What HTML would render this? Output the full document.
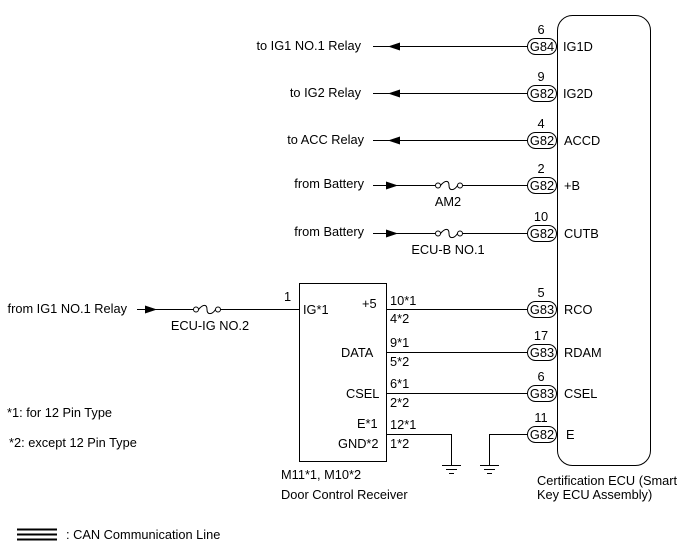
<!DOCTYPE html>
<html><head><meta charset="utf-8"><style>
html,body{margin:0;padding:0;background:#fff;}
svg{display:block;}
text{font-family:"Liberation Sans",Arial,sans-serif;font-size:12.8px;fill:#000;}
</style></head><body>
<svg width="688" height="560" viewBox="0 0 688 560" xmlns="http://www.w3.org/2000/svg">
<g stroke="#000" stroke-width="1" fill="none">
<rect x="557.5" y="15.5" width="93" height="450" rx="15" ry="15"/>
<rect x="299.5" y="283.5" width="87" height="178"/>
<line x1="373" y1="46.5" x2="527" y2="46.5"/>
<line x1="373" y1="93.5" x2="527" y2="93.5"/>
<line x1="373" y1="140.5" x2="527" y2="140.5"/>
<line x1="373" y1="185.5" x2="435" y2="185.5"/>
<line x1="463" y1="185.5" x2="527" y2="185.5"/>
<line x1="373" y1="233.5" x2="435" y2="233.5"/>
<line x1="463" y1="233.5" x2="527" y2="233.5"/>
<line x1="137" y1="309.5" x2="193" y2="309.5"/>
<line x1="220" y1="309.5" x2="299" y2="309.5"/>
<line x1="386" y1="309.5" x2="527" y2="309.5"/>
<line x1="386" y1="352.5" x2="527" y2="352.5"/>
<line x1="386" y1="393.5" x2="527" y2="393.5"/>
<polyline points="386,434.5 451.5,434.5 451.5,465"/>
<polyline points="527,434.5 489.5,434.5 489.5,465"/>
<line x1="442" y1="465.5" x2="461" y2="465.5"/>
<line x1="446" y1="469.5" x2="457" y2="469.5"/>
<line x1="449" y1="473.5" x2="454" y2="473.5"/>
<line x1="480" y1="465.5" x2="499" y2="465.5"/>
<line x1="484" y1="469.5" x2="495" y2="469.5"/>
<line x1="487" y1="473.5" x2="492" y2="473.5"/>
<circle cx="438" cy="185.5" r="2.5"/><circle cx="460" cy="185.5" r="2.5"/>
<path d="M440.5,185.5 C445,180 449,180 449,185.5 C449,191 454,191 457.5,185.5"/>
<circle cx="438" cy="233.5" r="2.5"/><circle cx="460" cy="233.5" r="2.5"/>
<path d="M440.5,233.5 C445,228 449,228 449,233.5 C449,239 454,239 457.5,233.5"/>
<circle cx="196" cy="309.5" r="2.5"/><circle cx="218" cy="309.5" r="2.5"/>
<path d="M198.5,309.5 C203,304 207,304 207,309.5 C207,315 212,315 215.5,309.5"/>
<rect x="527.5" y="38.5" width="29" height="16" rx="8"/>
<rect x="527.5" y="85.5" width="29" height="16" rx="8"/>
<rect x="527.5" y="132.5" width="29" height="16" rx="8"/>
<rect x="527.5" y="177.5" width="29" height="16" rx="8"/>
<rect x="527.5" y="225.5" width="29" height="16" rx="8"/>
<rect x="527.5" y="301.5" width="29" height="16" rx="8"/>
<rect x="527.5" y="344.5" width="29" height="16" rx="8"/>
<rect x="527.5" y="385.5" width="29" height="16" rx="8"/>
<rect x="527.5" y="426.5" width="29" height="16" rx="8"/>
<line x1="17" y1="529.5" x2="57" y2="529.5" stroke-width="2"/>
<line x1="17" y1="534.5" x2="57" y2="534.5" stroke-width="2"/>
<line x1="17" y1="539.5" x2="57" y2="539.5" stroke-width="2"/>
</g>
<g fill="#000">
<polygon points="388,46.5 400,42.5 400,50.5"/>
<polygon points="388,93.5 400,89.5 400,97.5"/>
<polygon points="388,140.5 400,136.5 400,144.5"/>
<polygon points="398,185.5 386,181.5 386,189.5"/>
<polygon points="398,233.5 386,229.5 386,237.5"/>
<polygon points="157,309.5 145,305.5 145,313.5"/>
</g>
<g text-anchor="end">
<text x="361" y="50">to IG1 NO.1 Relay</text>
<text x="361" y="97">to IG2 Relay</text>
<text x="364" y="144">to ACC Relay</text>
<text x="364" y="188">from Battery</text>
<text x="364" y="236">from Battery</text>
<text x="127" y="313">from IG1 NO.1 Relay</text>
</g>
<g text-anchor="middle">
<text x="541" y="34">6</text>
<text x="541" y="81">9</text>
<text x="541" y="128">4</text>
<text x="541" y="173">2</text>
<text x="541" y="221">10</text>
<text x="541" y="297">5</text>
<text x="541" y="340">17</text>
<text x="541" y="381">6</text>
<text x="541" y="422">11</text>
<text x="448" y="206">AM2</text>
<text x="448" y="254">ECU-B NO.1</text>
<text x="210" y="330">ECU-IG NO.2</text>
<text x="542" y="51">G84</text>
<text x="542" y="98">G82</text>
<text x="542" y="145">G82</text>
<text x="542" y="190">G82</text>
<text x="542" y="238">G82</text>
<text x="542" y="314">G83</text>
<text x="542" y="357">G83</text>
<text x="542" y="398">G83</text>
<text x="542" y="439">G82</text>
</g>
<g>
<text x="563" y="51">IG1D</text>
<text x="563" y="98">IG2D</text>
<text x="564" y="145">ACCD</text>
<text x="564" y="190">+B</text>
<text x="564" y="238">CUTB</text>
<text x="564" y="314">RCO</text>
<text x="564" y="357">RDAM</text>
<text x="564" y="398">CSEL</text>
<text x="566" y="439">E</text>
<text x="284" y="301">1</text>
<text x="303" y="314">IG*1</text>
<text x="362" y="308">+5</text>
<text x="341" y="357">DATA</text>
<text x="346" y="398">CSEL</text>
<text x="357" y="428">E*1</text>
<text x="338" y="448">GND*2</text>
<text x="390" y="305">10*1</text>
<text x="390" y="323">4*2</text>
<text x="390" y="347">9*1</text>
<text x="390" y="366">5*2</text>
<text x="390" y="388">6*1</text>
<text x="390" y="407">2*2</text>
<text x="390" y="429">12*1</text>
<text x="390" y="448">1*2</text>
<text x="281" y="479">M11*1, M10*2</text>
<text x="281" y="499">Door Control Receiver</text>
<text x="537" y="485">Certification ECU (Smart</text>
<text x="537" y="499">Key ECU Assembly)</text>
<text x="7" y="417">*1: for 12 Pin Type</text>
<text x="9" y="447">*2: except 12 Pin Type</text>
<text x="66" y="539">: CAN Communication Line</text>
</g>
</svg>
</body></html>
